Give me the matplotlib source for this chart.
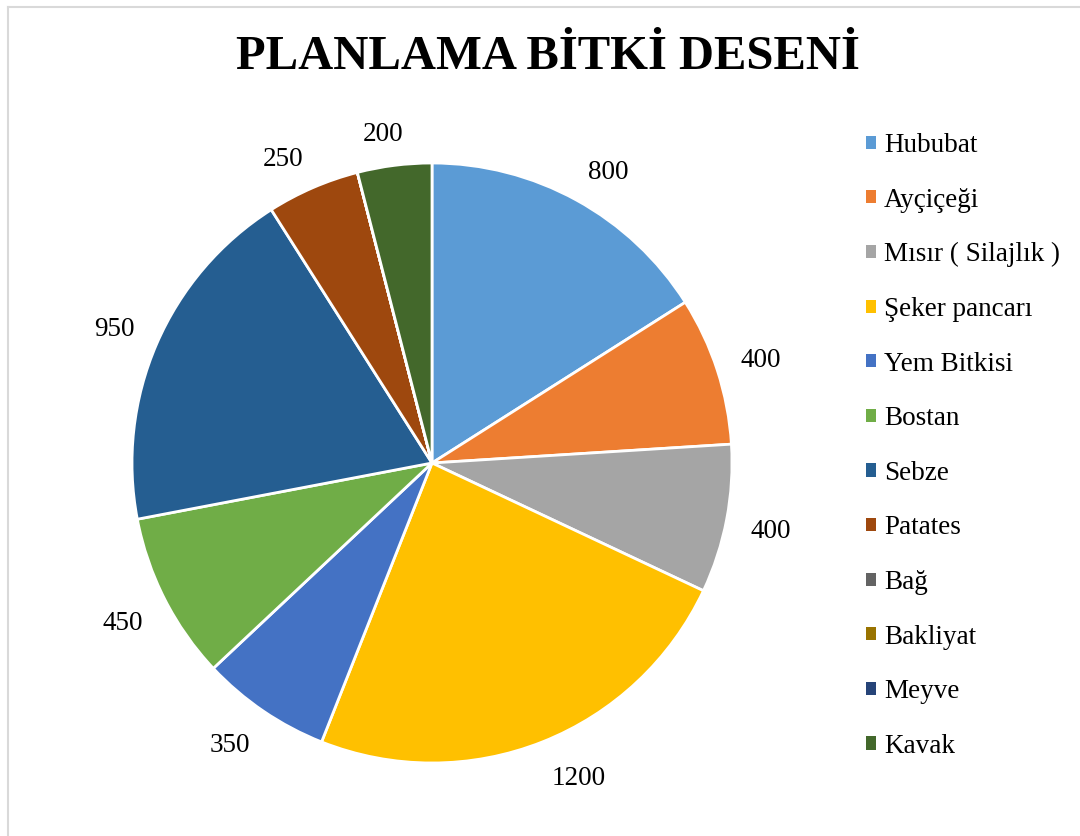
import matplotlib
matplotlib.use("Agg")
import numpy as np
import matplotlib.pyplot as plt
import matplotlib.transforms as mtransforms
from matplotlib.patches import Patch
from matplotlib.lines import Line2D

categories = ["Hububat", "Ayçiçeği", "Mısır ( Silajlık )", "Şeker pancarı", "Yem Bitkisi",
              "Bostan", "Sebze", "Patates", "Bağ", "Bakliyat", "Meyve", "Kavak"]
values = [800, 400, 400, 1200, 350, 450, 950, 250, 0, 0, 0, 200]
colors = ["#5B9BD5", "#ED7D31", "#A5A5A5", "#FFC000", "#4472C4", "#70AD47",
          "#255E91", "#9E480E", "#636363", "#997300", "#264478", "#43682B"]
title = "PLANLAMA BİTKİ DESENİ"

plt.rcParams['font.family'] = ['Liberation Serif', 'DejaVu Serif']

fig = plt.figure(figsize=(10.8, 8.36), dpi=100)
W, H = 1080, 836

# light border (top and left visible)
fig.add_artist(Line2D([8 / W, 8 / W], [0, 1 - 7 / H], transform=fig.transFigure,
                      color="#D9D9D9", lw=1.5))
fig.add_artist(Line2D([8 / W, 1], [1 - 7 / H, 1 - 7 / H], transform=fig.transFigure,
                      color="#D9D9D9", lw=1.5))

cx, cy, r = 432, 463, 300
ax = fig.add_axes([(cx - r) / W, 1 - (cy + r) / H, 2 * r / W, 2 * r / H])
wedges, _ = ax.pie(values, colors=colors, startangle=90, counterclock=False,
                   wedgeprops=dict(edgecolor="white", linewidth=2))
ax.set_xlim(-1, 1)
ax.set_ylim(-1, 1)
ax.set_aspect("equal")

# Excel-like "outside end" data labels
renderer = fig.canvas.get_renderer()
def f(v, k):
    return float(np.clip(v / k, -1, 1))

for w, v in zip(wedges, values):
    if v <= 0:
        continue
    mid = np.deg2rad((w.theta1 + w.theta2) / 2)
    c, s = np.cos(mid), np.sin(mid)
    t = ax.text(1.08 * c, 1.08 * s, str(v), ha="center", va="center",
                fontsize=19.5, color="black")
    bb = t.get_window_extent(renderer)
    off = mtransforms.offset_copy(ax.transData, fig=fig,
                                  x=bb.width / 2 * f(c, 0.3),
                                  y=bb.height / 2 * f(s, 0.5) * 0.85 - 4,
                                  units="dots")
    t.set_transform(off)

fig.text(548 / W, 1 - 57 / H, title, ha="center", va="center",
         fontsize=35, fontweight="bold")

handles = [Patch(facecolor=c, edgecolor="none") for c in colors]
fig.legend(handles, categories, loc="upper left",
           bbox_to_anchor=(866 / W, 1 - 133 / H), frameon=False,
           fontsize=19.5, labelspacing=1.093, handlelength=0.37, handleheight=0.37,
           handletextpad=0.3, borderpad=0, borderaxespad=0)

fig.savefig("out.png", dpi=100, facecolor="white")
